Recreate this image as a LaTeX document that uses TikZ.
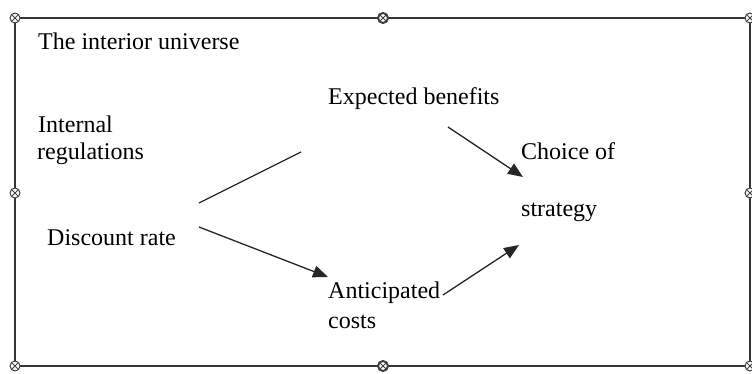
\documentclass[tikz,border=0pt]{standalone}
\usepackage{fontspec}
\setmainfont{Liberation Serif}
\usetikzlibrary{arrows.meta}
\tikzset{
  lbl/.style={anchor=base west, inner sep=0pt, font=\fontsize{24}{28}\selectfont},
  conn/.style={line width=1.3pt, black!85},
  arr/.style={conn, -{Triangle[length=15pt,width=12pt]}},
  frame/.style={line width=2.2pt, black!80},
}
\newcommand{\handle}[3]{% name, x, y
  \node[circle, draw=black!75, fill=white, line width=#3, minimum size=10pt, inner sep=0pt] (#1) at (#2) {};
  \draw[black!75, line width=0.8pt] ([shift={(-3,-3)}]#1.center) -- ([shift={(3,3)}]#1.center)
        ([shift={(-3,3)}]#1.center) -- ([shift={(3,-3)}]#1.center);
}
\begin{document}
\begin{tikzpicture}[x=1pt,y=-1pt]
\useasboundingbox (0,0) rectangle (752,374);
\fill[white] (0,0) rectangle (752,374);
% frame
\coordinate (tl) at (15,18);
\coordinate (br) at (750,366);
\draw[frame] (tl) rectangle (br);
\handle{h1}{15,18}{1pt}
\handle{h2}{383,18}{2pt}
\handle{h3}{750,18}{1pt}
\handle{h4}{15,193}{1pt}
\handle{h5}{750,193}{1pt}
\handle{h6}{15,366}{1pt}
\handle{h7}{383,366}{2pt}
\handle{h8}{750,366}{1pt}
% labels
\node[lbl] (univ) at (38,50) {The interior universe};
\node[lbl] (int1) at (38,133) {Internal};
\node[lbl] (int2) at (37,160) {regulations};
\node[lbl] (disc) at (47,245) {Discount rate};
\node[lbl] (exp) at (328,105) {Expected benefits};
\node[lbl] (choice1) at (521,160) {Choice of};
\node[lbl] (choice2) at (521,216) {strategy};
\node[lbl] (ant1) at (328,298) {Anticipated};
\node[lbl] (ant2) at (328,328) {costs};
% connector end points
\coordinate (d1) at (199,203);
\coordinate (d1e) at (301,152);
\coordinate (d2) at (199,227);
\coordinate (a1) at (328,277);
\coordinate (e1) at (448,127);
\coordinate (c1) at (523,177);
\coordinate (a2) at (443,295);
\coordinate (c2) at (519,245);
\draw[conn] (d1) -- (d1e);
\draw[arr] (d2) -- (a1);
\draw[arr] (e1) -- (c1);
\draw[arr] (a2) -- (c2);
\end{tikzpicture}
\end{document}
